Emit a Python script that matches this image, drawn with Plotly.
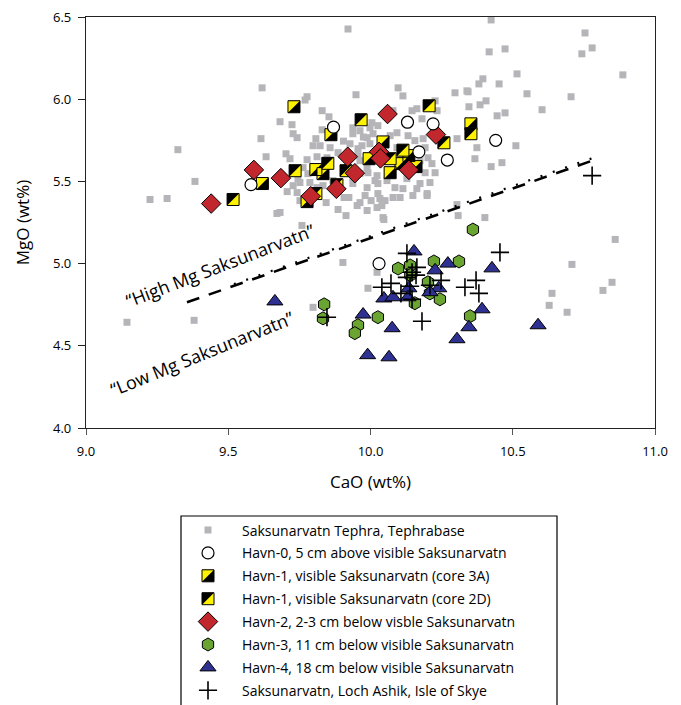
import plotly.graph_objects as go

# ---------------- data ----------------
tephra_cao = [9.921, 9.619, 9.777, 9.770, 9.949, 9.682, 9.724, 9.830, 9.854, 9.728, 9.742, 9.615, 9.830, 9.808,
              9.798, 9.323, 9.633, 9.703, 9.717, 9.777, 9.812, 9.763, 9.383, 9.225, 9.285, 9.707, 9.742, 9.752,
              9.671, 9.682, 9.886, 9.914, 9.963, 10.002, 9.988, 9.924, 9.868, 9.938, 9.963, 9.938, 9.938, 9.963,
              9.998, 10.009, 9.928, 9.956, 9.998, 10.026, 9.886, 9.858, 9.988, 9.963, 10.016, 9.847, 9.907, 9.812,
              9.833, 9.787, 9.752, 9.728, 9.780, 10.016, 10.026, 10.023, 9.953, 9.823, 9.745, 9.844,
              10.097, 10.114, 10.297, 10.343, 10.146, 10.163, 10.079, 10.181, 10.234, 10.005, 10.026, 9.975,
              9.988, 10.069, 10.093, 10.132, 10.156, 10.185, 10.192, 9.905, 9.970, 9.956, 10.005, 10.093, 10.079,
              10.174, 10.202, 10.216, 10.227, 10.192, 10.209, 10.174, 9.938, 9.991, 10.023, 10.026, 10.058,
              10.086, 10.114, 10.163, 9.981, 10.033, 10.079, 10.104, 10.040, 10.199, 10.304, 10.128,
              10.424, 10.754, 10.779, 10.743, 10.887, 10.473, 10.417, 10.515, 10.452, 10.395, 10.381, 10.339,
              10.550, 10.705, 10.406, 10.385, 10.346, 10.603, 10.473, 10.445, 10.227, 10.511, 10.424, 10.462,
              10.374, 10.367, 10.304, 10.199, 10.149, 10.051, 9.988, 10.402, 10.044,
              9.144, 9.380, 9.759, 9.903, 9.798, 9.991, 10.023, 10.047, 10.308, 10.860, 10.708, 10.638, 10.628,
              10.691, 10.817, 10.849]
tephra_mgo = [6.427, 6.069, 6.015, 5.995, 6.027, 5.863, 5.845, 5.930, 5.893, 5.790, 5.766, 5.760, 5.814, 5.760,
              5.717, 5.693, 5.650, 5.668, 5.638, 5.632, 5.650, 5.584, 5.500, 5.390, 5.396, 5.438, 5.432, 5.383,
              5.305, 5.311, 5.329, 5.292, 5.371, 5.383, 5.462, 5.402, 5.505, 5.487, 5.547, 5.790, 5.826, 5.808,
              5.826, 5.790, 5.729, 5.699, 5.729, 5.675, 5.675, 5.705, 5.584, 5.626, 5.626, 5.644, 5.402, 5.462,
              5.474, 5.493, 5.493, 5.474, 5.547, 5.505, 5.426, 5.341, 5.353, 5.717, 5.517, 5.371,
              6.069, 6.020, 6.039, 6.045, 5.930, 5.942, 5.930, 5.881, 5.930, 5.857, 5.839, 5.770,
              5.766, 5.778, 5.796, 5.778, 5.748, 5.760, 5.705, 5.745, 5.717, 5.657, 5.644, 5.705, 5.626,
              5.626, 5.644, 5.608, 5.553, 5.553, 5.493, 5.487, 5.523, 5.553, 5.535, 5.487, 5.505,
              5.462, 5.456, 5.456, 5.414, 5.396, 5.402, 5.402, 5.353, 5.414, 5.359, 5.517,
              6.482, 6.403, 6.312, 6.276, 6.148, 6.306, 6.288, 6.154, 6.093, 6.124, 6.093, 6.051,
              6.033, 6.015, 5.990, 5.966, 5.954, 5.936, 5.917, 5.899, 5.990, 5.717, 5.590, 5.614,
              5.705, 5.638, 5.760, 5.426, 5.414, 5.383, 5.323, 5.280, 5.280,
              4.643, 4.655, 5.232, 5.007, 4.734, 4.850, 4.947, 5.268, 5.292, 5.147, 4.995, 4.819, 4.746,
              4.704, 4.837, 4.886]

havn0_cao = [9.58, 9.87, 10.13, 10.22, 10.17, 10.27, 10.44, 10.03]
havn0_mgo = [5.48, 5.83, 5.86, 5.85, 5.68, 5.63, 5.75, 5.00]

havn1_3a_cao = [9.731, 9.861, 9.808, 9.833, 9.620, 9.777, 9.995, 10.353, 10.044, 10.135, 10.107, 10.069, 10.160]
havn1_3a_mgo = [5.954, 5.784, 5.572, 5.547, 5.487, 5.377, 5.638, 5.850, 5.740, 5.657, 5.608, 5.553, 5.590]

havn1_2d_cao = [9.967, 9.735, 9.850, 9.914, 9.517, 9.808, 9.882, 10.206, 10.353, 10.258, 10.114, 10.069]
havn1_2d_mgo = [5.875, 5.565, 5.610, 5.565, 5.390, 5.426, 5.480, 5.960, 5.790, 5.735, 5.690, 5.638]

havn2_cao = [9.44, 9.59, 9.685, 9.79, 9.88, 9.92, 9.945, 10.06, 10.03, 10.035, 10.135, 10.23]
havn2_mgo = [5.365, 5.57, 5.52, 5.41, 5.455, 5.65, 5.55, 5.91, 5.68, 5.64, 5.57, 5.785]

havn3_cao = [9.837, 9.833, 9.956, 9.945, 10.026, 10.36, 10.097, 10.139, 10.223, 10.311, 10.202, 10.209,
             10.244, 10.156, 10.35, 10.14]
havn3_mgo = [4.752, 4.667, 4.625, 4.577, 4.674, 5.207, 4.97, 4.989, 5.013, 5.013, 4.886, 4.819,
             4.783, 4.759, 4.68, 4.93]

havn4_cao = [9.664, 9.974, 9.99, 10.065, 10.153, 10.272, 10.227, 10.427, 10.135, 10.24, 10.209, 10.047,
             10.079, 10.132, 10.076, 10.392, 10.346, 10.304, 10.589]
havn4_mgo = [4.77, 4.69, 4.443, 4.43, 5.074, 5.0, 4.959, 4.971, 4.85, 4.85, 4.826, 4.788,
             4.795, 4.795, 4.607, 4.722, 4.613, 4.54, 4.625]

skye_cao = [10.779, 9.847, 10.128, 10.455, 10.163, 10.146, 10.128, 10.072, 10.04, 10.107, 10.146, 10.209,
            10.248, 10.371, 10.332, 10.381, 10.181, 10.139, 10.16]
skye_mgo = [5.535, 4.674, 5.062, 5.068, 4.977, 4.947, 4.916, 4.88, 4.856, 4.819, 4.783, 4.868,
            4.898, 4.898, 4.856, 4.819, 4.649, 4.862, 4.93]

divider_dash_cao = [9.355, 10.779]
divider_dash_mgo = [4.765, 5.626]
divider_dot_cao = [9.52, 10.81]
divider_dot_mgo = [4.875, 5.66]

x_ticks = [9.0, 9.5, 10.0, 10.5, 11.0]
y_ticks = [4.0, 4.5, 5.0, 5.5, 6.0, 6.5]

legend_labels = [
    "Saksunarvatn Tephra, Tephrabase",
    "Havn-0, 5 cm above visible Saksunarvatn",
    "Havn-1, visible Saksunarvatn (core 3A)",
    "Havn-1, visible Saksunarvatn (core 2D)",
    "Havn-2, 2-3 cm below visble Saksunarvatn",
    "Havn-3, 11 cm below visible Saksunarvatn",
    "Havn-4, 18 cm below visible Saksunarvatn",
    "Saksunarvatn, Loch Ashik, Isle of Skye",
]

# ---------------- layout geometry ----------------
# The page body adds an 8 px margin, so the figure is drawn 8 px smaller and
# every reference pixel position is moved 8 px up/left.
OFF = 8
W, H = 681 - OFF, 705 - OFF
PL, PR, PT, PB = 86 - OFF, 655 - OFF, 17 - OFF, 428 - OFF     # plot area in figure pixels
XR, YR = [9.0, 11.0], [4.0, 6.5]
LEG_L, LEG_R, LEG_T = 181 - OFF, 557 - OFF, 516 - OFF
FONT = "Open Sans"

GREY = "#b5b5b9"
YELLOW = "#fff200"
RED = "#c1272d"
GREEN = "#6aa532"
BLUE = "#2e3192"

px_per_x = (PR - PL) / (XR[1] - XR[0])
px_per_y = (PB - PT) / (YR[1] - YR[0])

# Plotly's triangle-nw: right-angle corner at (-0.6r, -0.6r), legs 1.8r (r = size/2)
SQ = 12                 # half-split square marker size (px)
tri_size = SQ / 0.9     # legs == square side
shift_px = SQ / 6.0     # triangle centre sits this many px left of / above the square centre

fig = go.Figure()

def add(tr):
    fig.add_trace(tr)

# tephrabase cloud
add(go.Scatter(x=tephra_cao, y=tephra_mgo, mode="markers",
               marker=dict(symbol="square", size=7, color=GREY), showlegend=False))

# divider lines
add(go.Scatter(x=divider_dot_cao, y=divider_dot_mgo, mode="lines",
               line=dict(color="black", width=2.2, dash="2px,11px"), showlegend=False))
add(go.Scatter(x=divider_dash_cao, y=divider_dash_mgo, mode="lines",
               line=dict(color="black", width=2.6, dash="13px,10px"), showlegend=False))


def half_square(xs, ys, tl_color, br_color, xa="x", ya="y", sx=1.0, sy=1.0):
    """Square split along the diagonal: tl_color fills the upper-left half.
    sx, sy: screen pixels per data unit (sy > 0 when data grows upward)."""
    add(go.Scatter(x=xs, y=ys, xaxis=xa, yaxis=ya, mode="markers",
                   marker=dict(symbol="square", size=SQ, color=br_color, line=dict(width=0)),
                   showlegend=False, hoverinfo="skip"))
    dx = -shift_px / sx
    dy = shift_px / sy
    add(go.Scatter(x=[v + dx for v in xs], y=[v + dy for v in ys], xaxis=xa, yaxis=ya, mode="markers",
                   marker=dict(symbol="triangle-nw", size=tri_size, color=tl_color, line=dict(width=0)),
                   showlegend=False, hoverinfo="skip"))
    add(go.Scatter(x=xs, y=ys, xaxis=xa, yaxis=ya, mode="markers",
                   marker=dict(symbol="square", size=SQ, color="rgba(0,0,0,0)",
                               line=dict(width=1, color="black")),
                   showlegend=False, hoverinfo="skip"))


half_square(havn1_3a_cao, havn1_3a_mgo, YELLOW, "black", sx=px_per_x, sy=px_per_y)
half_square(havn1_2d_cao, havn1_2d_mgo, "black", YELLOW, sx=px_per_x, sy=px_per_y)

add(go.Scatter(x=havn2_cao, y=havn2_mgo, mode="markers",
               marker=dict(symbol="diamond", size=15, color=RED, line=dict(width=1, color="black")),
               showlegend=False))
add(go.Scatter(x=havn0_cao, y=havn0_mgo, mode="markers",
               marker=dict(symbol="circle", size=12, color="white", line=dict(width=1.2, color="black")),
               showlegend=False))
add(go.Scatter(x=havn3_cao, y=havn3_mgo, mode="markers",
               marker=dict(symbol="hexagon", size=13, color=GREEN, line=dict(width=1, color="black")),
               showlegend=False))
add(go.Scatter(x=havn4_cao, y=havn4_mgo, mode="markers",
               marker=dict(symbol="triangle-up", size=14, color=BLUE, line=dict(width=1, color="black")),
               showlegend=False))
add(go.Scatter(x=skye_cao, y=skye_mgo, mode="markers",
               marker=dict(symbol="cross-thin", size=13, color="black", line=dict(width=1.6, color="black")),
               showlegend=False))

# ---------------- hand-built legend on an auxiliary pixel axis ----------------
row0, row_step = 530 - OFF, 22.9
sym_x = 208 - OFF
text_x = 240 - OFF
rows = [row0 + i * row_step for i in range(len(legend_labels))]

def leg(i, **marker):
    add(go.Scatter(x=[sym_x], y=[rows[i]], xaxis="x2", yaxis="y2", mode="markers",
                   marker=marker, showlegend=False, hoverinfo="skip"))

leg(0, symbol="square", size=7, color=GREY)
leg(1, symbol="circle", size=12, color="white", line=dict(width=1.2, color="black"))
half_square([sym_x], [rows[2]], YELLOW, "black", xa="x2", ya="y2", sx=1.0, sy=-1.0)
half_square([sym_x], [rows[3]], "black", YELLOW, xa="x2", ya="y2", sx=1.0, sy=-1.0)
leg(4, symbol="diamond", size=15, color=RED, line=dict(width=1, color="black"))
leg(5, symbol="hexagon", size=13, color=GREEN, line=dict(width=1, color="black"))
leg(6, symbol="triangle-up", size=14, color=BLUE, line=dict(width=1, color="black"))
leg(7, symbol="cross-thin", size=13, color="black", line=dict(width=1.6, color="black"))

annotations = []
for i, lab in enumerate(legend_labels):
    annotations.append(dict(x=text_x, y=rows[i], xref="x2", yref="y2", text=lab, showarrow=False,
                            xanchor="left", yanchor="middle",
                            font=dict(family=FONT, size=14, color="black")))

annotations.append(dict(x=9.474, y=4.99, xref="x", yref="y", text="\u201cHigh Mg Saksunarvatn\u201d",
                        showarrow=False, textangle=-21,
                        font=dict(family=FONT, size=18, color="black")))
annotations.append(dict(x=9.411, y=4.455, xref="x", yref="y", text="\u201cLow Mg Saksunarvatn\u201d",
                        showarrow=False, textangle=-22,
                        font=dict(family=FONT, size=18, color="black")))

shapes = [dict(type="rect", xref="paper", yref="paper",
               x0=LEG_L / W, x1=LEG_R / W, y0=-0.05, y1=1 - LEG_T / H,
               line=dict(color="black", width=1.2), fillcolor="rgba(0,0,0,0)", layer="below")]

fig.update_layout(
    width=W, height=H, autosize=False,
    margin=dict(l=0, r=0, t=0, b=0, autoexpand=False),
    paper_bgcolor="white", plot_bgcolor="white",
    font=dict(family=FONT, color="black"),
    showlegend=False,
    annotations=annotations,
    shapes=shapes,
    xaxis=dict(domain=[PL / W, PR / W], range=XR, tickvals=x_ticks, tickformat=".1f",
               automargin=False, ticklabelstandoff=5, ticklabeloverflow="allow",
               showgrid=False, zeroline=False, showline=True, linecolor="#222", linewidth=1.3,
               mirror=True, ticks="outside", ticklen=6, tickcolor="#555", tickwidth=1.3,
               tickfont=dict(family=FONT, size=13), anchor="y",
               title=dict(text="CaO (wt%)", font=dict(family=FONT, size=17), standoff=17)),
    yaxis=dict(domain=[1 - PB / H, 1 - PT / H], range=YR, tickvals=y_ticks, tickformat=".1f",
               automargin=False, ticklabelstandoff=4, ticklabeloverflow="allow",
               showgrid=False, zeroline=False, showline=True, linecolor="#222", linewidth=1.3,
               mirror=True, ticks="outside", ticklen=7, tickcolor="#222", tickwidth=1.2,
               tickfont=dict(family=FONT, size=13), anchor="x",
               title=dict(text="MgO (wt%)", font=dict(family=FONT, size=17), standoff=19)),
    xaxis2=dict(domain=[LEG_L / W, LEG_R / W], range=[LEG_L, LEG_R], visible=False, anchor="y2",
                automargin=False),
    yaxis2=dict(domain=[0, 1 - LEG_T / H], range=[H, LEG_T], visible=False, anchor="x2",
                automargin=False),
)

fig.write_html("out.html")
